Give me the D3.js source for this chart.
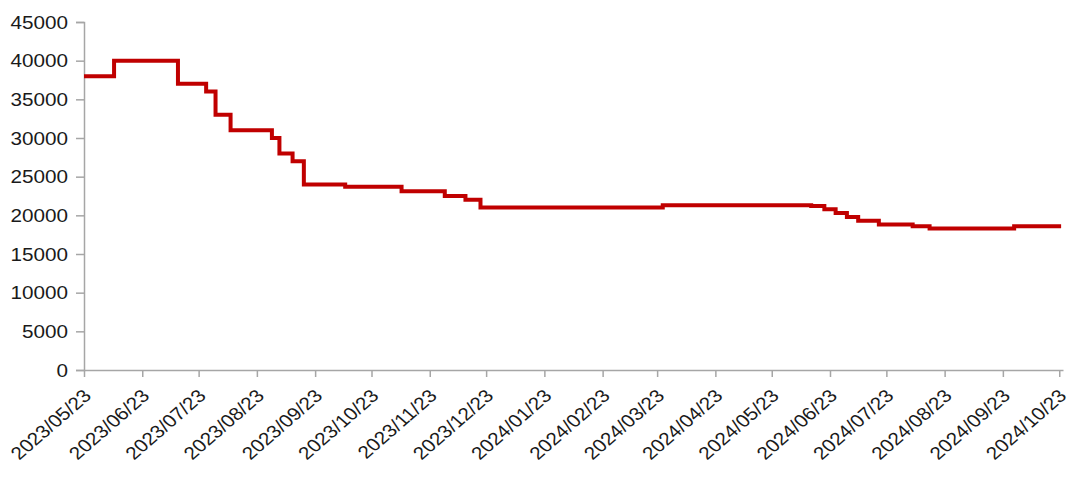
<!DOCTYPE html>
<html>
<head>
<meta charset="utf-8">
<script src="https://cdn.jsdelivr.net/npm/d3@7"></script>
<style>
  html, body { margin: 0; padding: 0; background: #ffffff; }
  svg { display: block; }
  text { font-family: "Liberation Sans", Arial, sans-serif; fill: #1a1a1a; }
</style>
</head>
<body>
<svg id="chart" width="1070" height="478"></svg>
<script>
// Price change points: each value holds until the next date
const changeDates = [
  "2023-05-23", "2023-06-08", "2023-07-12", "2023-07-27", "2023-08-01",
  "2023-08-09", "2023-08-31", "2023-09-04", "2023-09-11", "2023-09-17",
  "2023-10-09", "2023-11-08", "2023-12-01", "2023-12-12", "2023-12-20",
  "2024-03-26", "2024-06-13", "2024-06-20", "2024-06-26", "2024-07-02",
  "2024-07-08", "2024-07-19", "2024-08-06", "2024-08-15", "2024-09-29",
  "2024-10-24"
];
const prices = [
  38000, 40000, 37000, 36000, 33000,
  31000, 30000, 28000, 27000, 24000,
  23700, 23100, 22500, 22000, 21000,
  21300, 21200, 20800, 20300, 19800,
  19300, 18800, 18600, 18300, 18600,
  18600
];
const xTickDates = [
  "2023-05-23", "2023-06-23", "2023-07-23", "2023-08-23", "2023-09-23",
  "2023-10-23", "2023-11-23", "2023-12-23", "2024-01-23", "2024-02-23",
  "2024-03-23", "2024-04-23", "2024-05-23", "2024-06-23", "2024-07-23",
  "2024-08-23", "2024-09-23", "2024-10-23"
];
const yTicks = [0, 5000, 10000, 15000, 20000, 25000, 30000, 35000, 40000, 45000];
const xDomain = ["2023-05-23", "2024-10-25"];

const parse = d3.timeParse("%Y-%m-%d");
const fmt = d3.timeFormat("%Y/%m/%d");
const series = changeDates.map((d, i) => ({ date: parse(d), value: prices[i] }));

const svg = d3.select("#chart");
const plotLeft = 84, plotRight = 1063, plotTop = 22, plotBottom = 370;
const axisColor = "#a6a6a6";
const stretch = 1.15;

const x = d3.scaleTime().domain(xDomain.map(parse)).range([plotLeft, plotRight]);
const y = d3.scaleLinear().domain([0, 45000]).range([plotBottom, plotTop]);

// Y axis
const yAxis = svg.append("g")
  .attr("transform", `translate(${plotLeft},0)`)
  .call(d3.axisLeft(y).tickValues(yTicks).tickSize(8).tickPadding(0).tickFormat(d3.format("d")));
yAxis.select(".domain").attr("stroke", axisColor).attr("stroke-width", 1.5);
yAxis.selectAll(".tick line").attr("stroke", axisColor).attr("stroke-width", 1.5);
yAxis.selectAll(".tick text")
  .attr("x", 0).attr("dy", "0.35em")
  .attr("transform", `translate(-16,0) scale(${stretch},1)`)
  .style("font-size", "18px").attr("fill", "#1a1a1a");

// X axis
const xAxis = svg.append("g")
  .attr("transform", `translate(0,${plotBottom})`)
  .call(d3.axisBottom(x).tickValues(xTickDates.map(parse)).tickSize(7).tickSizeOuter(0).tickFormat(fmt));
xAxis.select(".domain").attr("stroke", axisColor).attr("stroke-width", 1.5);
xAxis.selectAll(".tick line").attr("stroke", axisColor).attr("stroke-width", 1.5);
xAxis.selectAll(".tick text")
  .attr("x", 0).attr("y", 0).attr("dy", 0)
  .attr("text-anchor", "end")
  .attr("transform", `translate(8,27) scale(${stretch},1) rotate(-45)`)
  .style("font-size", "18px").attr("fill", "#1a1a1a");

// Price line
const line = d3.line()
  .x(d => x(d.date))
  .y(d => y(d.value))
  .curve(d3.curveStepAfter);

svg.append("path")
  .datum(series)
  .attr("fill", "none")
  .attr("stroke", "#c00000")
  .attr("stroke-width", 4)
  .attr("stroke-linejoin", "miter")
  .attr("d", line);
</script>
</body>
</html>
